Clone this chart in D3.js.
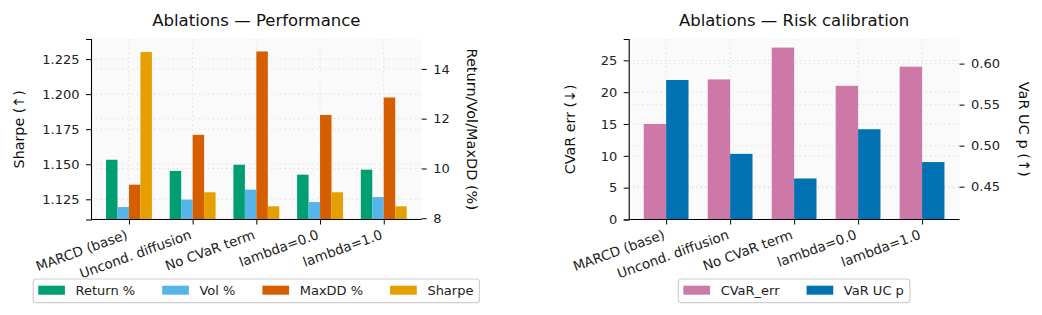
<!DOCTYPE html>
<html>
<head>
<meta charset="utf-8">
<script src="https://cdn.jsdelivr.net/npm/d3@7"></script>
<style>
  body { margin: 0; background: #fff; }
  svg { display: block; font-family: "DejaVu Sans", sans-serif; }
  .tick text { fill: #222; }
</style>
</head>
<body>
<div class="core_div"></div>
<script>
// data
const categories = ["MARCD (base)", "Uncond. diffusion", "No CVaR term", "lambda=0.0", "lambda=1.0"];
const returnPct = [10.35, 9.9, 10.15, 9.75, 9.95];
const volPct = [8.45, 8.75, 9.15, 8.65, 8.85];
const maxDDPct = [9.35, 11.35, 14.7, 12.15, 12.85];
const sharpe = [1.23, 1.13, 1.12, 1.13, 1.12];
const cvarErr = [15, 22, 27, 21, 24];
const varUcP = [0.58, 0.49, 0.46, 0.52, 0.48];

const sharpeTicks = [1.125, 1.15, 1.175, 1.2, 1.225];
const pctTicks = [8, 10, 12, 14];
const cvarTicks = [0, 5, 10, 15, 20, 25];
const pTicks = [0.45, 0.5, 0.55, 0.6];

// axis limits
const sharpeLim = [1.1106, 1.2393];
const pctLim = [7.95, 15.2];
const cvarLim = [0, 28.35];
const pLim = [0.41, 0.63];

const W = 1042, H = 315;
const TOP = 39, BOTTOM = 219.5;

var svg = d3.select(".core_div").append("svg")
    .attr("width", W)
    .attr("height", H);

function panel(opt) {
  var g = svg.append("g");
  var x = d3.scalePoint().domain(categories).range([opt.x0, opt.x1]).padding(opt.pad);
  var step = x.step();
  var yL = d3.scaleLinear().domain(opt.leftLim).range([BOTTOM, TOP]).clamp(true);
  var yR = d3.scaleLinear().domain(opt.rightLim).range([BOTTOM, TOP]).clamp(true);

  // axes background
  g.append("rect")
      .attr("x", opt.x0).attr("y", TOP)
      .attr("width", opt.x1 - opt.x0).attr("height", BOTTOM - TOP)
      .style("fill", "#fafafa");

  // grid (both y axes + x)
  var grid = g.append("g")
      .style("stroke", "#dadada")
      .style("stroke-width", 0.8)
      .style("stroke-dasharray", "1.5,3");
  opt.leftTicks.forEach(function(t) {
    grid.append("line").attr("x1", opt.x0).attr("x2", opt.x1)
        .attr("y1", yL(t)).attr("y2", yL(t));
  });
  opt.rightTicks.forEach(function(t) {
    grid.append("line").attr("x1", opt.x0).attr("x2", opt.x1)
        .attr("y1", yR(t)).attr("y2", yR(t));
  });
  categories.forEach(function(c) {
    grid.append("line").attr("x1", x(c)).attr("x2", x(c))
        .attr("y1", TOP).attr("y2", BOTTOM);
  });

  // bars
  var n = opt.series.length;
  var bw = step * opt.barFrac;
  opt.series.forEach(function(s, si) {
    var y = s.axis === "left" ? yL : yR;
    var base = y(s.axis === "left" ? opt.leftLim[0] : opt.rightLim[0]);
    g.append("g").selectAll("rect")
        .data(s.values)
      .enter().append("rect")
        .attr("x", function(d, i) { return x(categories[i]) + (si - n / 2) * bw; })
        .attr("width", bw)
        .attr("y", function(d) { return y(d); })
        .attr("height", function(d) { return base - y(d); })
        .style("fill", s.color);
  });

  // left axis
  var axL = g.append("g")
      .attr("transform", "translate(" + opt.x0 + ",0)")
      .call(d3.axisLeft(yL).tickValues(opt.leftTicks).tickFormat(opt.leftFmt).tickSize(5).tickPadding(6.5));
  // right axis (no spine)
  var axR = g.append("g")
      .attr("transform", "translate(" + opt.x1 + ",0)")
      .call(d3.axisRight(yR).tickValues(opt.rightTicks).tickFormat(opt.rightFmt).tickSize(5).tickPadding(6.5));
  axR.select(".domain").remove();
  // bottom axis
  var axB = g.append("g")
      .attr("transform", "translate(0," + BOTTOM + ")")
      .call(d3.axisBottom(x).tickSize(5).tickSizeOuter(0).tickFormat(""));
  axB.select(".domain").attr("d", "M" + opt.x0 + ",0H" + opt.x1);

  [axL, axR, axB].forEach(function(a) {
    a.selectAll("text").style("font-size", "13px").style("font-family", "DejaVu Sans");
    a.selectAll("line").style("stroke", "#000").style("stroke-width", 1);
    a.select(".domain").style("stroke", "#000").style("stroke-width", 1.1);
  });

  // rotated x tick labels
  g.append("g").selectAll("text")
      .data(categories)
    .enter().append("text")
      .attr("transform", function(d) {
        return "translate(" + (x(d) - 4) + "," + (BOTTOM + 9) + ") rotate(-20)";
      })
      .attr("dy", "0.78em")
      .attr("text-anchor", "end")
      .style("font-size", "13.5px")
      .style("fill", "#222")
      .text(function(d) { return d; });

  // title
  var cx = (opt.x0 + opt.x1) / 2;
  g.append("text")
      .attr("x", cx).attr("y", 26)
      .attr("text-anchor", "middle")
      .style("font-size", "16.5px")
      .style("fill", "#111")
      .text(opt.title);

  // y labels
  var cy = (TOP + BOTTOM) / 2;
  g.append("text")
      .attr("transform", "translate(" + opt.leftLabelX + "," + cy + ") rotate(-90)")
      .attr("text-anchor", "middle")
      .attr("dy", "0.35em")
      .style("font-size", "14.3px")
      .style("fill", "#111")
      .text(opt.leftLabel);
  g.append("text")
      .attr("transform", "translate(" + opt.rightLabelX + "," + cy + ") rotate(90)")
      .attr("text-anchor", "middle")
      .attr("dy", "0.35em")
      .style("font-size", "14.5px")
      .style("fill", "#111")
      .text(opt.rightLabel);

  // legend
  var lg = g.append("g");
  var frame = lg.append("rect")
      .attr("rx", 3).attr("ry", 3)
      .style("fill", "#fff").style("fill-opacity", 0.85)
      .style("stroke", "#cfcfcf").style("stroke-width", 1.2);
  var cur = 5;
  opt.series.forEach(function(s, si) {
    lg.append("rect")
        .attr("x", cur).attr("y", 6.7)
        .attr("width", 26.7).attr("height", 9)
        .style("fill", s.color);
    var t = lg.append("text")
        .attr("x", cur + 37.3).attr("y", 11.2)
        .attr("dy", "0.36em")
        .style("font-size", "13px")
        .style("fill", "#222")
        .text(s.name);
    cur += 37.3 + t.node().getComputedTextLength() + (si < n - 1 ? 27 : 6);
  });
  frame.attr("x", 0).attr("y", 0).attr("width", cur).attr("height", 23.7);
  lg.attr("transform", "translate(" + (cx - cur / 2) + ",279)");
}

panel({
  x0: 91, x1: 421.7, pad: 0.596, barFrac: 0.18,
  title: "Ablations \u2014 Performance",
  leftLim: sharpeLim, rightLim: pctLim,
  leftTicks: sharpeTicks, rightTicks: pctTicks,
  leftFmt: d3.format(".3f"), rightFmt: d3.format("d"),
  leftLabel: "Sharpe (\u2191)", rightLabel: "Return/Vol/MaxDD (%)",
  leftLabelX: 18.5, rightLabelX: 472.5,
  series: [
    {name: "Return %", values: returnPct, axis: "right", color: "#009E73"},
    {name: "Vol %", values: volPct, axis: "right", color: "#56B4E9"},
    {name: "MaxDD %", values: maxDDPct, axis: "right", color: "#D55E00"},
    {name: "Sharpe", values: sharpe, axis: "left", color: "#E69F00"}
  ]
});

panel({
  x0: 628.7, x1: 959.5, pad: 0.585, barFrac: 0.35,
  title: "Ablations \u2014 Risk calibration",
  leftLim: cvarLim, rightLim: pLim,
  leftTicks: cvarTicks, rightTicks: pTicks,
  leftFmt: d3.format("d"), rightFmt: d3.format(".2f"),
  leftLabel: "CVaR err (\u2193)", rightLabel: "VaR UC p (\u2191)",
  leftLabelX: 570, rightLabelX: 1024.5,
  series: [
    {name: "CVaR_err", values: cvarErr, axis: "left", color: "#CC79A7"},
    {name: "VaR UC p", values: varUcP, axis: "right", color: "#0072B2"}
  ]
});
</script>
</body>
</html>
